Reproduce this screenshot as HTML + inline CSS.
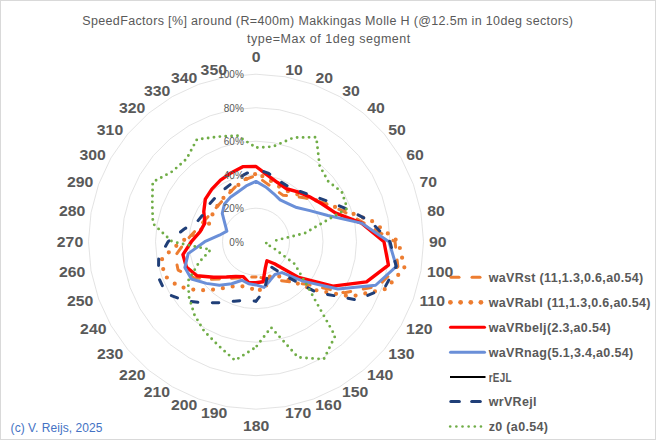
<!DOCTYPE html>
<html><head><meta charset="utf-8"><style>
html,body{margin:0;padding:0;background:#fff;}
#c{position:relative;width:656px;height:440px;overflow:hidden;background:#fff;}
svg{position:absolute;left:0;top:0;}
.pct{font-family:"Liberation Sans",sans-serif;font-size:10px;fill:#595959;}
.ang{font-family:"Liberation Sans",sans-serif;font-size:14px;font-weight:bold;fill:#595959;}
.leg{font-family:"Liberation Sans",sans-serif;font-size:12.5px;font-weight:bold;fill:#595959;letter-spacing:0.33px;}
.tt{font-family:"Liberation Sans",sans-serif;font-size:12.5px;fill:#595959;}
.cp{font-family:"Liberation Sans",sans-serif;font-size:12px;fill:#4472C4;}
</style></head><body><div id="c">
<svg width="656" height="440" viewBox="0 0 656 440">
<rect x="0.5" y="0.5" width="655" height="439" fill="#fff" stroke="#d9d9d9" stroke-width="1"/>
<text x="82.3" y="24.6" class="tt" textLength="490.7" lengthAdjust="spacing">SpeedFactors [%] around (R=400m) Makkingas Molle H (@12.5m in 10deg sectors)</text>
<text x="246.9" y="43.1" class="tt" textLength="163.4" lengthAdjust="spacing">type=Max of 1deg segment</text>
<polygon points="256.00,208.20 261.82,208.71 267.46,210.22 272.75,212.69 277.53,216.04 281.66,220.17 285.01,224.95 287.48,230.24 288.99,235.88 289.50,241.70 288.99,247.52 287.48,253.16 285.01,258.45 281.66,263.23 277.53,267.36 272.75,270.71 267.46,273.18 261.82,274.69 256.00,275.20 250.18,274.69 244.54,273.18 239.25,270.71 234.47,267.36 230.34,263.23 226.99,258.45 224.52,253.16 223.01,247.52 222.50,241.70 223.01,235.88 224.52,230.24 226.99,224.95 230.34,220.17 234.47,216.04 239.25,212.69 244.54,210.22 250.18,208.71" fill="none" stroke="#d9d9d9" stroke-width="0.75"/>
<polygon points="256.00,174.70 267.63,175.72 278.92,178.74 289.50,183.68 299.07,190.38 307.32,198.63 314.02,208.20 318.96,218.78 321.98,230.07 323.00,241.70 321.98,253.33 318.96,264.62 314.02,275.20 307.32,284.77 299.07,293.02 289.50,299.72 278.92,304.66 267.63,307.68 256.00,308.70 244.37,307.68 233.08,304.66 222.50,299.72 212.93,293.02 204.68,284.77 197.98,275.20 193.04,264.62 190.02,253.33 189.00,241.70 190.02,230.07 193.04,218.78 197.98,208.20 204.68,198.63 212.93,190.38 222.50,183.68 233.08,178.74 244.37,175.72" fill="none" stroke="#d9d9d9" stroke-width="0.75"/>
<polygon points="256.00,141.20 273.45,142.73 290.37,147.26 306.25,154.66 320.60,164.71 332.99,177.10 343.04,191.45 350.44,207.33 354.97,224.25 356.50,241.70 354.97,259.15 350.44,276.07 343.04,291.95 332.99,306.30 320.60,318.69 306.25,328.74 290.37,336.14 273.45,340.67 256.00,342.20 238.55,340.67 221.63,336.14 205.75,328.74 191.40,318.69 179.01,306.30 168.96,291.95 161.56,276.07 157.03,259.15 155.50,241.70 157.03,224.25 161.56,207.33 168.96,191.45 179.01,177.10 191.40,164.71 205.75,154.66 221.63,147.26 238.55,142.73" fill="none" stroke="#d9d9d9" stroke-width="0.75"/>
<polygon points="256.00,107.70 279.27,109.74 301.83,115.78 323.00,125.65 342.13,139.05 358.65,155.57 372.05,174.70 381.92,195.87 387.96,218.43 390.00,241.70 387.96,264.97 381.92,287.53 372.05,308.70 358.65,327.83 342.13,344.35 323.00,357.75 301.83,367.62 279.27,373.66 256.00,375.70 232.73,373.66 210.17,367.62 189.00,357.75 169.87,344.35 153.35,327.83 139.95,308.70 130.08,287.53 124.04,264.97 122.00,241.70 124.04,218.43 130.08,195.87 139.95,174.70 153.35,155.57 169.87,139.05 189.00,125.65 210.17,115.78 232.73,109.74" fill="none" stroke="#d9d9d9" stroke-width="0.75"/>
<polygon points="256.00,74.20 285.09,76.74 313.29,84.30 339.75,96.64 363.67,113.39 384.31,134.03 401.06,157.95 413.40,184.41 420.96,212.61 423.50,241.70 420.96,270.79 413.40,298.99 401.06,325.45 384.31,349.37 363.67,370.01 339.75,386.76 313.29,399.10 285.09,406.66 256.00,409.20 226.91,406.66 198.71,399.10 172.25,386.76 148.33,370.01 127.69,349.37 110.94,325.45 98.60,298.99 91.04,270.79 88.50,241.70 91.04,212.61 98.60,184.41 110.94,157.95 127.69,134.03 148.33,113.39 172.25,96.64 198.71,84.30 226.91,76.74" fill="none" stroke="#d9d9d9" stroke-width="0.75"/>
<polyline points="256.00,175.54 266.33,183.14 275.02,189.44 282.88,195.14 294.11,196.28 307.58,198.42 323.45,202.76 341.78,210.48 363.55,222.74 395.02,241.70 397.86,266.71 377.98,286.10 344.49,292.79 306.81,284.34 289.70,281.86 278.19,280.14 269.52,278.85 262.37,277.83 256.00,276.88" fill="none" stroke="#ED7D31" stroke-width="3" stroke-linecap="round" stroke-linejoin="round" stroke-dasharray="8 12.81" stroke-dashoffset="-8.12"/>
<polyline points="256.00,276.88 249.75,277.17 242.94,277.59 234.98,278.11 224.88,278.78 211.09,279.38 193.62,277.71 178.09,270.06 175.17,255.95 185.31,241.70 195.13,230.97 202.80,222.34 209.58,214.90 215.84,208.00 221.98,201.15 228.45,193.98 235.83,186.30 245.03,179.51 256.00,175.54" fill="none" stroke="#ED7D31" stroke-width="3" stroke-linecap="round" stroke-linejoin="round" stroke-dasharray="8 12.18" stroke-dashoffset="3.73"/>
<polyline points="256.00,173.69 267.23,178.03 276.57,185.19 285.65,190.35 296.05,193.97 308.22,197.88 323.45,202.76 343.36,209.90 372.13,221.22 398.38,241.70 404.46,267.88 385.85,288.96 351.01,296.56 313.10,289.61 287.87,279.68 275.18,274.92 268.83,276.96 264.58,290.36 256.00,289.61" fill="none" stroke="#ED7D31" stroke-width="4.2" stroke-linecap="round" stroke-linejoin="round" stroke-dasharray="0 9.94" stroke-dashoffset="-6.82"/>
<polyline points="256.00,289.61 247.86,287.89 240.02,285.61 229.95,286.81 215.95,289.43 197.87,290.47 178.39,286.51 163.92,275.21 161.98,258.28 181.13,241.70 198.27,231.52 208.78,224.51 211.61,216.07 215.84,208.00 221.22,200.26 228.03,193.25 236.01,186.77 245.06,179.68 256.00,173.69" fill="none" stroke="#ED7D31" stroke-width="4.2" stroke-linecap="round" stroke-linejoin="round" stroke-dasharray="0 9.94" stroke-dashoffset="-4.01"/>
<polygon points="256.00,166.49 267.69,175.39 277.54,182.52 286.57,188.75 297.77,191.91 309.51,196.80 321.71,203.76 335.33,212.83 361.57,223.08 383.97,241.70 388.46,265.06 366.49,281.92 332.88,286.09 298.60,277.45 274.52,263.77 266.97,260.70 265.40,267.51 263.07,281.78 256.00,282.74 248.79,282.61 243.28,276.64 235.90,276.51 226.39,276.99 213.66,277.23 196.96,275.79 186.43,267.02 182.92,254.59 191.34,241.70 199.92,231.81 204.85,223.08 203.78,211.55 205.32,199.17 211.86,189.09 220.49,180.19 230.96,172.92 242.77,166.65" fill="none" stroke="#FF0000" stroke-width="3.4" stroke-linejoin="round"/>
<polygon points="256.00,181.40 265.66,186.93 273.53,193.54 280.12,199.92 287.98,203.59 296.68,207.57 309.82,210.63 327.93,215.52 361.41,223.11 389.00,241.70 396.38,266.45 375.62,285.24 337.96,289.02 302.96,281.11 281.95,272.62 274.93,274.48 270.09,280.42 264.06,287.39 256.00,284.91 248.58,283.76 241.96,280.26 231.71,283.77 219.39,285.33 206.34,283.37 191.45,278.97 184.86,267.59 188.20,253.65 204.75,241.70 219.38,235.24 226.88,231.10 224.96,223.78 222.25,213.38 224.45,204.10 230.37,197.31 237.90,191.96 246.17,185.95" fill="none" stroke="#6A8FD8" stroke-width="3" stroke-linejoin="round"/>
<polyline points="256.00,168.84 268.10,173.08 278.29,180.47 287.99,186.29 298.64,190.89 311.17,195.40 326.79,200.83 346.50,208.76 370.64,221.49 390.00,241.70 396.21,266.42 384.28,288.39 356.82,299.91 316.31,292.30 284.10,275.19 270.24,266.36 267.74,273.97 264.58,290.36 256.00,301.16" fill="none" stroke="#203F78" stroke-width="3" stroke-linecap="round" stroke-linejoin="round" stroke-dasharray="6.5 14.33" stroke-dashoffset="-8.33"/>
<polyline points="256.00,301.16 245.70,300.09 234.34,301.20 220.82,302.62 204.54,303.03 185.43,300.92 166.06,293.62 158.41,277.22 158.68,258.86 168.06,241.70 184.24,229.05 198.08,220.62 204.94,212.22 210.19,203.26 217.24,195.51 225.26,188.46 234.12,181.57 244.16,174.56 256.00,168.84" fill="none" stroke="#203F78" stroke-width="3" stroke-linecap="round" stroke-linejoin="round" stroke-dasharray="6.5 14.50" stroke-dashoffset="-16.38"/>
<polyline points="256.00,147.56 272.75,146.69 293.92,137.50 316.30,137.26 319.63,165.87 328.11,181.19 341.88,192.12 347.29,208.47 304.99,233.06 270.91,241.70" fill="none" stroke="#70AD47" stroke-width="2.9" stroke-linecap="round" stroke-linejoin="round" stroke-dasharray="0 5.96" stroke-dashoffset="-1.34"/>
<polyline points="270.91,241.70 265.40,243.36 273.63,248.12 294.73,264.06 305.91,283.58 335.14,336.01 323.84,359.20 298.11,357.39 271.12,327.48 256.00,347.06" fill="none" stroke="#70AD47" stroke-width="2.9" stroke-linecap="round" stroke-linejoin="round" stroke-dasharray="0 6.02" stroke-dashoffset="-4.83"/>
<polyline points="256.00,347.06 235.06,360.47 218.25,345.43 204.24,331.35 194.52,314.97 189.15,297.79 187.97,280.98 199.02,262.44 210.64,249.70 172.08,241.70" fill="none" stroke="#70AD47" stroke-width="2.9" stroke-linecap="round" stroke-linejoin="round" stroke-dasharray="0 5.97" stroke-dashoffset="-3.06"/>
<polyline points="172.08,241.70 152.90,223.52 152.27,203.95 152.72,182.07 172.34,171.50 186.55,158.94 196.96,139.43 217.79,136.72 237.30,135.63 256.00,147.56" fill="none" stroke="#70AD47" stroke-width="2.9" stroke-linecap="round" stroke-linejoin="round" stroke-dasharray="0 5.90" stroke-dashoffset="-0.91"/>
<text x="243.8" y="245.7" text-anchor="end" class="pct">0%</text>
<text x="243.8" y="212.2" text-anchor="end" class="pct">20%</text>
<text x="243.8" y="178.7" text-anchor="end" class="pct">40%</text>
<text x="243.8" y="145.2" text-anchor="end" class="pct">60%</text>
<text x="243.8" y="111.7" text-anchor="end" class="pct">80%</text>
<text x="243.8" y="78.2" text-anchor="end" class="pct">100%</text>
<text transform="translate(256.1,62.4) scale(1.13,1)" text-anchor="middle" class="ang">0</text>
<text transform="translate(294.1,75.0) scale(1.13,1)" text-anchor="middle" class="ang">10</text>
<text transform="translate(324.3,83.3) scale(1.13,1)" text-anchor="middle" class="ang">20</text>
<text transform="translate(351.1,96.2) scale(1.13,1)" text-anchor="middle" class="ang">30</text>
<text transform="translate(376.1,113.1) scale(1.13,1)" text-anchor="middle" class="ang">40</text>
<text transform="translate(397.1,135.0) scale(1.13,1)" text-anchor="middle" class="ang">50</text>
<text transform="translate(415.1,159.9) scale(1.13,1)" text-anchor="middle" class="ang">60</text>
<text transform="translate(428.2,187.2) scale(1.13,1)" text-anchor="middle" class="ang">70</text>
<text transform="translate(436.1,215.9) scale(1.13,1)" text-anchor="middle" class="ang">80</text>
<text transform="translate(437.8,247.2) scale(1.13,1)" text-anchor="middle" class="ang">90</text>
<text transform="translate(440.2,277.2) scale(1.13,1)" text-anchor="middle" class="ang">100</text>
<text transform="translate(432.2,305.7) scale(1.13,1)" text-anchor="middle" class="ang">110</text>
<text transform="translate(419.3,334.2) scale(1.13,1)" text-anchor="middle" class="ang">120</text>
<text transform="translate(401.4,359.2) scale(1.13,1)" text-anchor="middle" class="ang">130</text>
<text transform="translate(380.1,379.9) scale(1.13,1)" text-anchor="middle" class="ang">140</text>
<text transform="translate(355.1,396.9) scale(1.13,1)" text-anchor="middle" class="ang">150</text>
<text transform="translate(328.5,409.9) scale(1.13,1)" text-anchor="middle" class="ang">160</text>
<text transform="translate(298.2,418.4) scale(1.13,1)" text-anchor="middle" class="ang">170</text>
<text transform="translate(256.2,431.1) scale(1.13,1)" text-anchor="middle" class="ang">180</text>
<text transform="translate(214.2,417.7) scale(1.13,1)" text-anchor="middle" class="ang">190</text>
<text transform="translate(184.1,409.9) scale(1.13,1)" text-anchor="middle" class="ang">200</text>
<text transform="translate(156.9,397.2) scale(1.13,1)" text-anchor="middle" class="ang">210</text>
<text transform="translate(132.3,380.1) scale(1.13,1)" text-anchor="middle" class="ang">220</text>
<text transform="translate(110.1,359.4) scale(1.13,1)" text-anchor="middle" class="ang">230</text>
<text transform="translate(93.3,334.0) scale(1.13,1)" text-anchor="middle" class="ang">240</text>
<text transform="translate(80.2,305.7) scale(1.13,1)" text-anchor="middle" class="ang">250</text>
<text transform="translate(72.1,276.7) scale(1.13,1)" text-anchor="middle" class="ang">260</text>
<text transform="translate(70.0,247.0) scale(1.13,1)" text-anchor="middle" class="ang">270</text>
<text transform="translate(72.1,216.0) scale(1.13,1)" text-anchor="middle" class="ang">280</text>
<text transform="translate(80.2,186.5) scale(1.13,1)" text-anchor="middle" class="ang">290</text>
<text transform="translate(92.7,159.9) scale(1.13,1)" text-anchor="middle" class="ang">300</text>
<text transform="translate(110.0,134.7) scale(1.13,1)" text-anchor="middle" class="ang">310</text>
<text transform="translate(132.1,112.9) scale(1.13,1)" text-anchor="middle" class="ang">320</text>
<text transform="translate(157.1,95.6) scale(1.13,1)" text-anchor="middle" class="ang">330</text>
<text transform="translate(184.1,82.8) scale(1.13,1)" text-anchor="middle" class="ang">340</text>
<text transform="translate(213.8,74.9) scale(1.13,1)" text-anchor="middle" class="ang">350</text>
<line x1="451" y1="277.2" x2="459" y2="277.2" stroke="#ED7D31" stroke-width="3" stroke-linecap="round"/>
<line x1="472" y1="277.2" x2="480" y2="277.2" stroke="#ED7D31" stroke-width="3" stroke-linecap="round"/>
<text x="488.7" y="281.8" class="leg">waVRst (11,1.3,0.6,a0.54)</text>
<circle cx="450.4" cy="302.3" r="2.4" fill="#ED7D31"/>
<circle cx="460.6" cy="302.3" r="2.4" fill="#ED7D31"/>
<circle cx="470.8" cy="302.3" r="2.4" fill="#ED7D31"/>
<circle cx="480.9" cy="302.3" r="2.4" fill="#ED7D31"/>
<text x="488.7" y="306.9" class="leg">waVRabl (11,1.3,0.6,a0.54)</text>
<line x1="450.5" y1="327.2" x2="484.5" y2="327.2" stroke="#FF0000" stroke-width="3" stroke-linecap="round"/>
<text x="488.7" y="331.8" class="leg">waVRbelj(2.3,a0.54)</text>
<line x1="450.5" y1="352.3" x2="484.5" y2="352.3" stroke="#6A8FD8" stroke-width="3" stroke-linecap="round"/>
<text x="488.7" y="356.9" class="leg">waVRnag(5.1,3.4,a0.54)</text>
<line x1="450" y1="377.1" x2="485.5" y2="377.1" stroke="#000" stroke-width="2"/>
<text x="488.7" y="381.7" class="leg" textLength="23" lengthAdjust="spacingAndGlyphs">rEJL</text>
<line x1="450.8" y1="401.6" x2="459.4" y2="401.6" stroke="#203F78" stroke-width="3" stroke-linecap="round"/>
<line x1="471.7" y1="401.6" x2="480.3" y2="401.6" stroke="#203F78" stroke-width="3" stroke-linecap="round"/>
<text x="488.7" y="406.2" class="leg">wrVRejl</text>
<circle cx="450.20" cy="426.5" r="1.3" fill="#70AD47"/>
<circle cx="456.35" cy="426.5" r="1.3" fill="#70AD47"/>
<circle cx="462.50" cy="426.5" r="1.3" fill="#70AD47"/>
<circle cx="468.65" cy="426.5" r="1.3" fill="#70AD47"/>
<circle cx="474.80" cy="426.5" r="1.3" fill="#70AD47"/>
<circle cx="480.95" cy="426.5" r="1.3" fill="#70AD47"/>
<text x="488.7" y="431.1" class="leg">z0 (a0.54)</text>
<text x="10.6" y="432" class="cp" textLength="91.8" lengthAdjust="spacing">(c) V. Reijs, 2025</text>
</svg></div></body></html>
